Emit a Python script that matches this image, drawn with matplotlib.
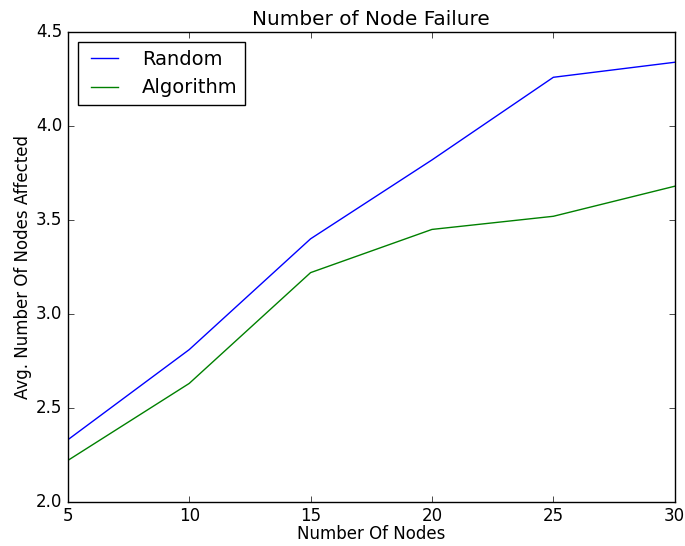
import matplotlib
matplotlib.use('Agg')
import matplotlib.pyplot as plt

plt.style.use('classic')

nodes = [5, 10, 15, 20, 25, 30]
random_avg = [2.33, 2.81, 3.40, 3.82, 4.26, 4.34]
algorithm_avg = [2.22, 2.63, 3.22, 3.45, 3.52, 3.68]

fig = plt.figure(figsize=(6.85, 5.46), dpi=100, facecolor='white')
ax = fig.add_axes([0.099, 0.081, 0.886, 0.860])

ax.plot(nodes, random_avg, color='b', label='Random')
ax.plot(nodes, algorithm_avg, color='g', label='Algorithm')

ax.set_xlim(5, 30)
ax.set_ylim(2.0, 4.5)
ax.set_title('Number of Node Failure')
ax.set_xlabel('Number Of Nodes', labelpad=0)
ax.set_ylabel('Avg. Number Of Nodes Affected', labelpad=3)
ax.legend(loc='upper left', fontsize=14, handletextpad=0.9)

fig.savefig('out.png', dpi=100, facecolor='white')
